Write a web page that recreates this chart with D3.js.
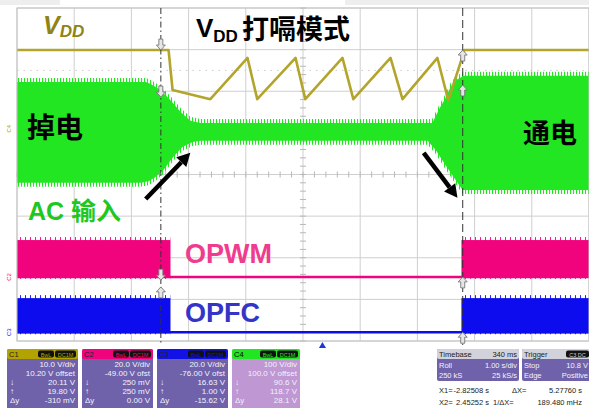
<!DOCTYPE html>
<html><head><meta charset="utf-8">
<script src="https://cdn.jsdelivr.net/npm/d3@7"></script>
<style>
html,body{margin:0;padding:0;background:#fff;overflow:hidden;}
svg{display:block;}
text{font-family:"Liberation Sans",Arial,"Noto Sans CJK SC",sans-serif;}
</style></head><body>
<svg id="c" width="589" height="408"></svg>
<script>
// ---------------- DATA ----------------
const timeDomain = [-5.34, 4.66];      // seconds, 1 s/div, delay 340 ms
const divDomain  = [-4, 4];             // vertical divisions
const cursorTimes = [-2.82508, 2.45252];

// C1 : VDD (divisions)
const vddTime = [-5.34,-2.69,-2.62,-1.96,-1.31,-1.14,-0.47,-0.30,0.35,0.54,1.19,1.40,2.01,2.20,2.43,2.48,4.66];
const vddDiv  = [2.99,2.99,2.03,1.81,2.80,1.81,2.80,1.81,2.80,1.81,2.80,1.81,2.80,1.78,2.76,2.99,2.99];

// C4 : AC input envelope
const acTopTime = [-5.34,-3.09,-3.01,-2.83,-2.66,-2.48,-2.31,-2.13,1.92,2.06,2.15,2.24,2.34,2.47,4.66];
const acTopDiv  = [2.22,2.22,2.18,2.03,1.79,1.50,1.29,1.24,1.24,1.62,1.83,2.10,2.27,2.37,2.37];
const acBotTime = [-5.34,-3.18,-3.04,-2.92,-2.78,-2.62,-2.45,-2.27,-2.13,1.84,1.98,2.15,2.33,2.45,4.66];
const acBotDiv  = [-0.20,-0.20,-0.16,-0.06,0.11,0.40,0.66,0.78,0.81,0.81,0.59,0.23,-0.13,-0.37,-0.37];

// C2 : OPWM, C3 : OPFC  (switching intervals + levels)
const gateOnStart = [-5.34, 2.43];
const gateOnEnd   = [-2.66, 4.66];
const pwmHigh = -1.575, pwmLow = -2.46;
const pfcHigh = -2.97,  pfcLow = -3.79;

// cursor markers
const markTime = [-2.82508,-2.82508,-2.82508,-2.82508,2.45252,2.45252,2.45252,2.45252];
const markDiv  = [2.99,1.86,-2.54,-2.70,2.99,2.15,-2.46,-3.79];
const markDir  = [1,1,1,-1,-1,-1,-1,-1];

// annotation arrows (time, div)
const arrowFrom = [[-3.09,-0.59],[1.77,0.52]];
const arrowTo   = [[-2.31,0.52],[2.36,-0.56]];

// info panel
const chanNames  = ["C1","C2","C3","C4"];
const chanColors = ["#b3a300","#f2037e","#1212e8","#22e622"];
const chanVdiv   = ["10.0 V/div","20.0 V/div","20.0 V/div","100 V/div"];
const chanOffset = ["10.20 V offset","-49.00 V ofst","-76.00 V ofst","100.0 V offset"];
const chanY1     = ["20.11 V","250 mV","16.63 V","90.6 V"];
const chanY2     = ["19.80 V","250 mV","1.00 V","118.7 V"];
const chanDy     = ["-310 mV","0.00 V","-15.62 V","28.1 V"];

// ---------------- DRAW ----------------
const svg = d3.select("#c");
const x = d3.scaleLinear().domain(timeDomain).range([17,589]);
const y = d3.scaleLinear().domain(divDomain).range([341,8]);

const GREEN="#22e622", PINK="#f2037e", BLUE="#0c0cee", OLIVE="#b3a52c";

const defs = svg.append("defs");
const pat = defs.append("pattern").attr("id","gfr").attr("width",3).attr("height",10).attr("patternUnits","userSpaceOnUse");
pat.append("rect").attr("width",1.1).attr("height",10).attr("fill",GREEN);
const patP = defs.append("pattern").attr("id","pfr").attr("width",5).attr("height",10).attr("patternUnits","userSpaceOnUse");
patP.append("rect").attr("width",0.9).attr("height",10).attr("fill",PINK);
const patB = defs.append("pattern").attr("id","bfr").attr("width",5).attr("height",10).attr("patternUnits","userSpaceOnUse");
patB.append("rect").attr("width",0.9).attr("height",10).attr("fill",BLUE);

// top light strips
svg.append("rect").attr("x",0).attr("y",0).attr("width",60).attr("height",5).attr("fill","#eeeeee");
svg.append("rect").attr("x",345).attr("y",0).attr("width",244).attr("height",5).attr("fill","#eeeeee");

// grid
const g = svg.append("g");
const vt = d3.range(0,11).map(i=>timeDomain[0]+i);
g.selectAll("line.v").data(vt).join("line")
  .attr("x1",d=>x(d)).attr("x2",d=>x(d)).attr("y1",y(4)).attr("y2",y(-4))
  .attr("stroke","#cfcfcf").attr("stroke-width",1);
g.selectAll("line.h").data(d3.range(-4,5)).join("line")
  .attr("x1",x(timeDomain[0])).attr("x2",x(timeDomain[1])).attr("y1",d=>y(d)).attr("y2",d=>y(d))
  .attr("stroke","#cfcfcf").attr("stroke-width",1);
// center ticks
const tc = timeDomain[0]+5;
g.selectAll("line.ty").data(d3.range(-4,4.01,0.2)).join("line")
  .attr("x1",x(tc)-3).attr("x2",x(tc)+3).attr("y1",d=>y(d)).attr("y2",d=>y(d))
  .attr("stroke","#b8b8b8");
g.selectAll("line.tx").data(d3.range(0,50.01,1).map(i=>timeDomain[0]+i*0.2)).join("line")
  .attr("x1",d=>x(d)).attr("x2",d=>x(d)).attr("y1",y(0)-3).attr("y2",y(0)+3)
  .attr("stroke","#b8b8b8");
// dotted level
g.append("line").attr("x1",x(timeDomain[0])).attr("x2",x(timeDomain[1])).attr("y1",y(2.5)).attr("y2",y(2.5))
  .attr("stroke","#cccccc").attr("stroke-dasharray","1.5,5");

// C4 AC envelope
const topPts = acTopTime.map((t,i)=>[x(t),y(acTopDiv[i])]);
const botPts = acBotTime.map((t,i)=>[x(t),y(acBotDiv[i])]);
const line = d3.line();
const fringe = topPts.map(p=>[p[0],p[1]-4]).concat(botPts.slice().reverse().map(p=>[p[0],p[1]+4]));
svg.append("path").attr("d",line(fringe)+"Z").attr("fill","url(#gfr)");
svg.append("path").attr("d",line(topPts.concat(botPts.slice().reverse()))+"Z").attr("fill",GREEN);

// C2 / C3 digital
function gate(high,low,color,fr){
  const gg = svg.append("g");
  gg.append("line").attr("x1",x(timeDomain[0])).attr("x2",x(timeDomain[1]))
    .attr("y1",y(low)).attr("y2",y(low)).attr("stroke",color).attr("stroke-width",2.5);
  gateOnStart.forEach((s,i)=>{
    gg.append("rect").attr("x",x(s)).attr("width",x(gateOnEnd[i])-x(s))
      .attr("y",y(high)-3).attr("height",y(low)-y(high)+5).attr("fill","url(#"+fr+")");
    gg.append("rect").attr("x",x(s)).attr("width",x(gateOnEnd[i])-x(s))
      .attr("y",y(high)).attr("height",y(low)-y(high)+1).attr("fill",color);
  });
}
gate(pwmHigh,pwmLow,PINK,"pfr");
gate(pfcHigh,pfcLow,BLUE,"bfr");

// C1 VDD
svg.append("path").attr("d",d3.line().x((t)=>x(t)).y((t,i)=>y(vddDiv[i]))(vddTime))
  .attr("fill","none").attr("stroke",OLIVE).attr("stroke-width",2.6).attr("stroke-linejoin","round");

// plot border
svg.append("rect").attr("x",x(timeDomain[0])).attr("y",y(4)).attr("width",x(timeDomain[1])-x(timeDomain[0]))
  .attr("height",y(-4)-y(4)).attr("fill","none").attr("stroke","#c4c4c4");

// cursors
svg.selectAll("line.cur").data(cursorTimes).join("line")
  .attr("x1",d=>x(d)).attr("x2",d=>x(d)).attr("y1",y(4)).attr("y2",y(-4)+4)
  .attr("stroke","#333").attr("stroke-width",1)
  .attr("stroke-dasharray",(d,i)=>i===0?"6,3,1.5,3":"8,4");
// cursor markers
const arrowPath = "M-2,-11 L2,-11 L2,-5 L4.5,-5 L0,0 L-4.5,-5 L-2,-5 Z";
svg.selectAll("path.mk").data(markTime).join("path")
  .attr("d",arrowPath)
  .attr("transform",(t,i)=>`translate(${x(t)},${y(markDiv[i])}) scale(1,${markDir[i]})`)
  .attr("fill","#e6e6e6").attr("stroke","#777").attr("stroke-width",0.9);

// ground markers left
[["C4",1.1,"#b3a300"],["C2",pwmLow,PINK],["C3",pfcLow,BLUE]].forEach(m=>{
  svg.append("text").attr("transform",`translate(11,${y(m[1])}) rotate(-90)`)
    .attr("font-size",6).attr("text-anchor","middle").attr("fill",m[2]).text(m[0]);
});

// trigger position marker
svg.append("path").attr("d",d3.symbol(d3.symbolTriangle,22)()).attr("transform",`translate(${x(0)},346)`).attr("fill","#1a3ad8");

// annotation arrows
arrowFrom.forEach((f,i)=>{
  const x1=x(f[0]),y1=y(f[1]),x2=x(arrowTo[i][0]),y2=y(arrowTo[i][1]);
  const ang=Math.atan2(y2-y1,x2-x1), L=13, W=7;
  const bx=x2-L*Math.cos(ang), by=y2-L*Math.sin(ang);
  svg.append("line").attr("x1",x1).attr("y1",y1).attr("x2",bx).attr("y2",by).attr("stroke","#000").attr("stroke-width",4.5);
  const px=-Math.sin(ang),py=Math.cos(ang);
  svg.append("path").attr("d",`M${x2},${y2} L${bx+px*W},${by+py*W} L${bx-px*W},${by-py*W} Z`).attr("fill","#000");
});

// labels
const vl = svg.append("text").attr("x",43).attr("y",34).attr("fill","#8f8414").attr("font-weight","bold").attr("font-style","italic");
vl.append("tspan").attr("font-size",25).text("V");
vl.append("tspan").attr("font-size",17).attr("dy",3).text("DD");

const tl = svg.append("text").attr("x",196).attr("y",37).attr("fill","#000").attr("font-weight","bold");
tl.append("tspan").attr("font-size",26).text("V");
tl.append("tspan").attr("font-size",17).attr("dy",5).text("DD");
tl.append("tspan").attr("font-size",27).attr("dy",-3).attr("dx",4).attr("font-family","'Noto Sans CJK SC'").text("打嗝模式");

svg.append("text").attr("x",27).attr("y",138).attr("font-size",28).attr("font-weight","bold")
  .attr("font-family","'Noto Sans CJK SC'").attr("fill","#000").text("掉电");
svg.append("text").attr("x",523).attr("y",143).attr("font-size",27).attr("font-weight","bold")
  .attr("font-family","'Noto Sans CJK SC'").attr("fill","#000").text("通电");
const ac = svg.append("text").attr("x",28).attr("y",220).attr("fill","#1fc81f").attr("font-weight","bold");
ac.append("tspan").attr("font-size",25).text("AC ");
ac.append("tspan").attr("font-size",25).attr("font-family","'Noto Sans CJK SC'").text("输入");

svg.append("text").attr("x",185).attr("y",263).attr("font-size",27).attr("font-weight","bold").attr("fill","#f03c8e").text("OPWM");
svg.append("text").attr("x",185).attr("y",322).attr("font-size",27).attr("font-weight","bold").attr("fill","#3434c8").text("OPFC");

// ---------------- INFO PANEL ----------------
const boxX = [7,82,157,232], boxW=[71,71,71,68];
chanNames.forEach((n,i)=>{
  const b = svg.append("g").attr("transform",`translate(${boxX[i]},349)`);
  b.append("rect").attr("width",boxW[i]).attr("height",70).attr("rx",2).attr("fill",i===3?"#bf97d2":"#6f62aa");
  b.append("rect").attr("width",boxW[i]).attr("height",10).attr("rx",2).attr("fill",chanColors[i]);
  b.append("text").attr("x",2).attr("y",8).attr("font-size",7.5).attr("fill",i===3?"#000":"#222").text(n);
  b.append("rect").attr("x",boxW[i]-40).attr("y",1.5).attr("width",16).attr("height",7).attr("rx",2).attr("fill","#111");
  b.append("rect").attr("x",boxW[i]-23).attr("y",1.5).attr("width",21).attr("height",7).attr("rx",2).attr("fill","#111");
  b.append("text").attr("x",boxW[i]-32).attr("y",7.5).attr("font-size",5.5).attr("text-anchor","middle").attr("fill",chanColors[i]).text("BwL");
  b.append("text").attr("x",boxW[i]-12.5).attr("y",7.5).attr("font-size",5.5).attr("text-anchor","middle").attr("fill",chanColors[i]).text("DC1M");
  const rows=[chanVdiv[i],chanOffset[i],chanY1[i],chanY2[i],chanDy[i]];
  const lefts=["","","↓","↑","Δy"];
  rows.forEach((r,k)=>{
    b.append("text").attr("x",boxW[i]-3).attr("y",18+k*9).attr("font-size",8).attr("text-anchor","end").attr("fill","#f2f2ff").text(r);
    if(lefts[k]) b.append("text").attr("x",3).attr("y",18+k*9).attr("font-size",8).attr("fill","#f2f2ff").text(lefts[k]);
  });
});
// timebase
const tb = svg.append("g").attr("transform","translate(437,349)");
tb.append("rect").attr("width",82).attr("height",32).attr("rx",2).attr("fill","#6f62aa");
tb.append("rect").attr("width",82).attr("height",10).attr("rx",2).attr("fill","#d2d2dc");
tb.append("text").attr("x",2).attr("y",8).attr("font-size",7.5).attr("fill","#222").text("Timebase");
tb.append("text").attr("x",80).attr("y",8).attr("font-size",7.5).attr("text-anchor","end").attr("fill","#222").text("340 ms");
[["Roll","1.00 s/div"],["250 kS","25 kS/s"]].forEach((r,k)=>{
  tb.append("text").attr("x",2).attr("y",19+k*10).attr("font-size",7.5).attr("fill","#f2f2ff").text(r[0]);
  tb.append("text").attr("x",80).attr("y",19+k*10).attr("font-size",7.5).attr("text-anchor","end").attr("fill","#f2f2ff").text(r[1]);
});
const tg = svg.append("g").attr("transform","translate(522,349)");
tg.append("rect").attr("width",72).attr("height",32).attr("rx",2).attr("fill","#6f62aa");
tg.append("rect").attr("width",72).attr("height",10).attr("rx",2).attr("fill","#d2d2dc");
tg.append("text").attr("x",2).attr("y",8).attr("font-size",7.5).attr("fill","#222").text("Trigger");
tg.append("rect").attr("x",44).attr("y",1.5).attr("width",23).attr("height",7).attr("rx",2).attr("fill","#111");
tg.append("text").attr("x",55.5).attr("y",7.5).attr("font-size",5.5).attr("text-anchor","middle").attr("fill","#ccc").text("C3 DC");
[["Stop","10.8 V"],["Edge","Positive"]].forEach((r,k)=>{
  tg.append("text").attr("x",2).attr("y",19+k*10).attr("font-size",7.5).attr("fill","#f2f2ff").text(r[0]);
  tg.append("text").attr("x",66).attr("y",19+k*10).attr("font-size",7.5).attr("text-anchor","end").attr("fill","#f2f2ff").text(r[1]);
});
// cursor readouts
const ro = [["X1=","-2.82508 s","ΔX=","5.27760 s"],["X2=","2.45252 s","1/ΔX=","189.480 mHz"]];
ro.forEach((r,k)=>{
  const yy = 393+k*12;
  svg.append("text").attr("x",439).attr("y",yy).attr("font-size",7.5).attr("fill","#222").text(r[0]);
  svg.append("text").attr("x",489).attr("y",yy).attr("font-size",7.5).attr("text-anchor","end").attr("fill","#222").text(r[1]);
  svg.append("text").attr("x",k?493:512).attr("y",yy).attr("font-size",7.5).attr("fill","#222").text(r[2]);
  svg.append("text").attr("x",582).attr("y",yy).attr("font-size",7.5).attr("text-anchor","end").attr("fill","#222").text(r[3]);
});
</script>
</body></html>
